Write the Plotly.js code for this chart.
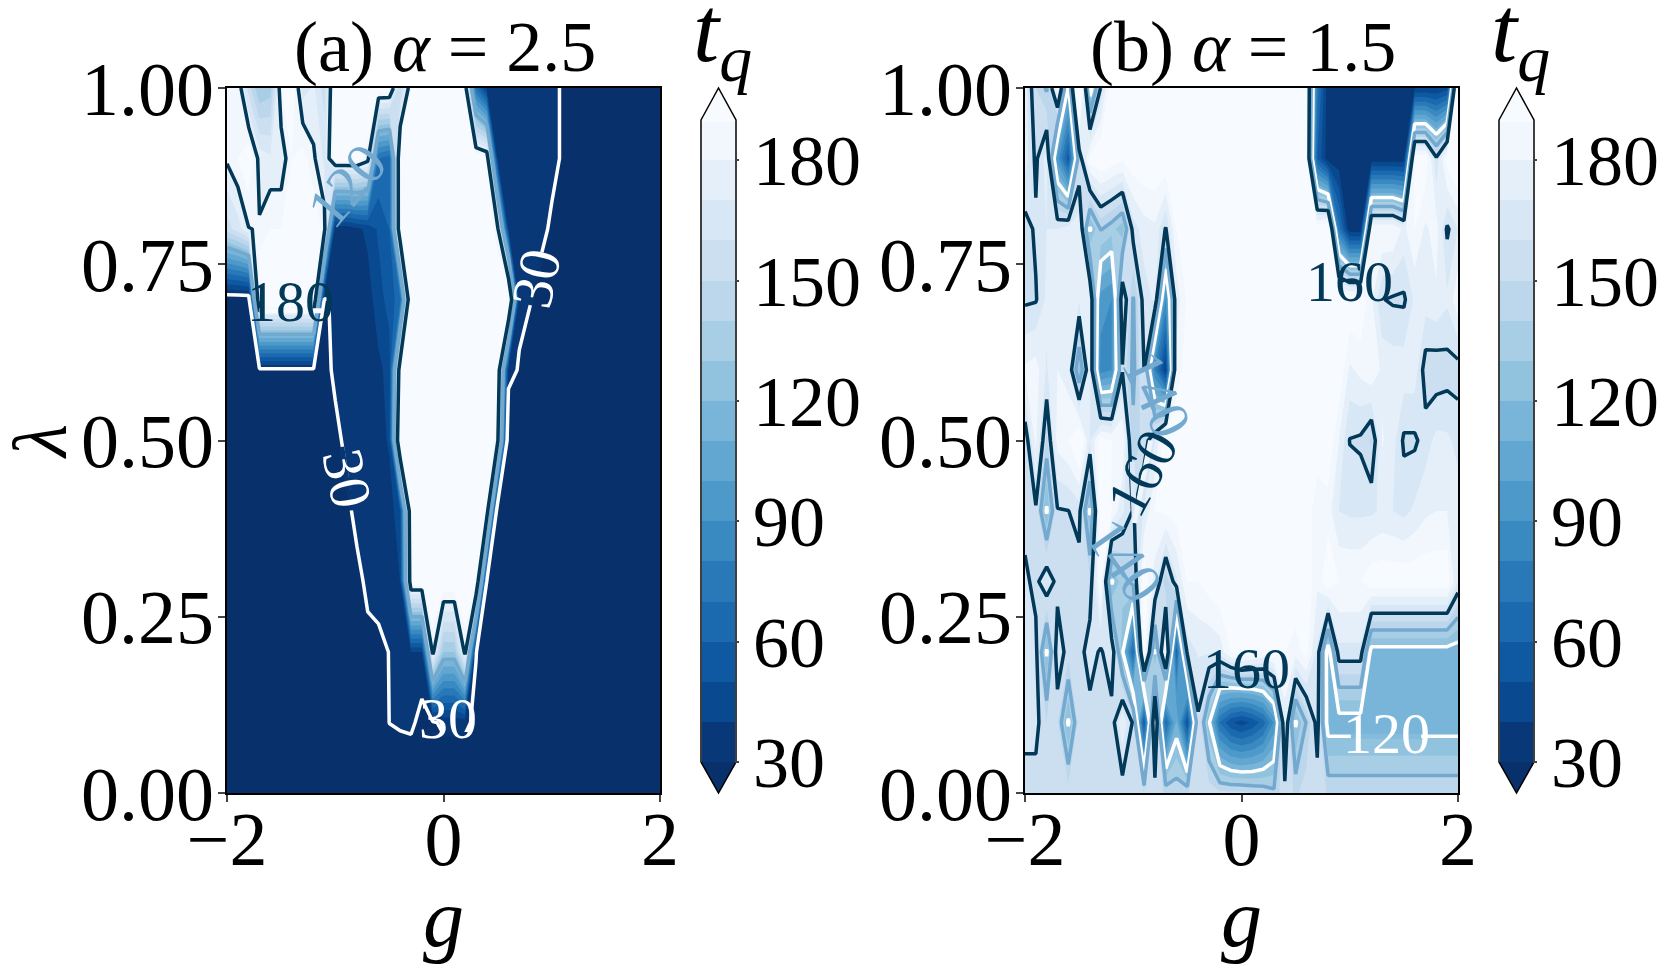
<!DOCTYPE html>
<html>
<head>
<meta charset="utf-8">
<title>tq contours</title>
<script src="https://cdn.plot.ly/plotly-3.0.0.min.js"></script>
<style>
  html, body { margin: 0; padding: 0; background: #fff; }
  #chart { width: 1660px; height: 964px; }
</style>
</head>
<body>
<div id="chart"></div>
<script>
// grid of the two scans
var gVals = [-2,-1.9,-1.8,-1.7,-1.6,-1.5,-1.4,-1.3,-1.2,-1.1,-1,-0.9,-0.8,-0.7,-0.6,-0.5,-0.4,-0.3,-0.2,-0.1,0,0.1,0.2,0.3,0.4,0.5,0.6,0.7,0.8,0.9,1,1.1,1.2,1.3,1.4,1.5,1.6,1.7,1.8,1.9,2];
var lambdaVals = [0,0.1,0.2,0.3,0.4,0.5,0.6,0.7,0.8,0.9,1];

// (a) alpha = 2.5, one row per lambda
var aRow000 = [15,15,15,15,15,15,15,15,15,15,15,15,15,15,15,15,15,15,15,15,15,15,15,15,15,15,15,15,15,15,15,15,15,15,15,15,15,15,15,15,15];
var aRow010 = [20,20,20,20,20,20,20,20,20,20,20,20,20,20,20,30.2,32,33,25,28,33,33,33,27,20,20,20,20,20,20,20,20,20,20,20,20,20,20,20,20,20];
var aRow020 = [20,20,20,20,20,20,20,20,20,20,20,20,20,26,28,30.2,35,40,40,185,130,130,185,30.5,20,20,20,20,20,20,20,20,20,20,20,20,20,20,20,20,20];
var aRow030 = [20,20,20,20,20,20,20,20,20,20,20,20,26,33,33,33,40,199,199,200,200,200,200,215,29,20,20,20,20,20,20,20,20,20,20,20,20,20,20,20,20];
var aRow040 = [20,20,20,20,20,20,20,20,20,20,20,26,34,33,33,33,50,205,200,200,200,200,200,200,195,10,20,20,20,20,20,20,20,20,20,20,20,20,20,20,20];
var aRow050 = [20,20,20,20,20,20,20,20,20,20,26,33,33,33,34,42,225,200,200,200,200,200,200,200,200,185,8,20,20,20,20,20,20,20,20,20,20,20,20,20,20];
var aRow060 = [20,20,20,27,27,27,27,27,27,25,33,33,33,33,38,43,200,200,200,200,200,200,200,200,200,205,38,28,20,20,20,20,20,20,20,20,20,20,20,20,20];
var aRow070 = [21,21,21,210,210,210,210,210,210,28,33,33,33,36,45,55,65,220,200,200,200,200,200,200,200,200,240,35,31,22,20,20,20,20,20,20,20,20,20,20,20];
var aRow080 = [155,165,179.5,181,190,190,200,200,200,186,33,33,38,42,52,60,205,200,200,200,200,200,200,200,200,185,40,33,33,35,27,20,20,20,20,20,20,20,20,20,20];
var aRow090 = [182,190,200,176,172,172,190,195,182,168,196,196,196,186,70,65,205,200,200,200,200,200,200,200,195,40,33,33,33,33,35,28,20,20,20,20,20,20,20,20,20];
var aRow100 = [190,190,155,130,135,190,200,165,172,155,200,200,200,200,198,198,150,190,200,200,200,200,190,70,38,36,33,33,33,33,35,28,20,20,20,20,20,20,20,20,20];

// (b) alpha = 1.5
var bRow000 = [155,155,155,155,155,155,155,155,155,154,155,150,153,149,147.5,149,155,155,152,152,152,150,148,143,157,148,155,155,149,149,149,149,149,149,149,149,149,149,149,149,149];
var bRow010 = [164,164,150,152,118,155,155,155,154,178,158,55,185,65,112,50,158,122,70,52,45,52,65,92,175,118,141,165,113,113,113,113,113,113,113,113,113,113,113,113,113];
var bRow020 = [168,164,118,169,154,155,166,158,170,122,65,200,118,190,62,164,171,171,174,190,200,195,190,197,190,185,194,168,111,167,167,167,113.6,113.6,113.6,113.6,113.6,113.6,113.6,113.6,112];
var bRow030 = [163,156,171,155,155,155,153,194,118,135,144,200,175,143,168,190,190,195,200,200,200,200,200,200,200,200,200,182,200,190,190,190,198,198,198,198,198,198,198,198,169];
var bRow040 = [155,158,118,159,159.8,164,118,200,190,172,159,171,190,192,195,195,200,200,200,200,200,200,200,200,200,200,200,180,185,170,168,168,168,172,170,167,172,178,180,180,175];
var bRow050 = [152,183,147.5,184,190,208,170,195,190,190,143,154,170,198,198,200,200,200,200,200,200,200,200,200,200,200,200,200,200,180,159.5,158,148,181,174,158,158,165,173,172,167];
var bRow060 = [182,185,169,180,175,125,177,85,90,159,137,160,80,40,185,195,200,200,200,200,200,200,200,200,200,200,200,200,200,200,178,183,189,178,176,176,176,154,153,155,155];
var bRow070 = [158,159,172,174,175,171,175,95,90,172,139,165,172,90,174,192,200,200,200,200,200,200,200,200,200,200,200,200,200,200,200,200,182,160.5,158.5,158,172,175,178,172,188];
var bRow080 = [155,162,170,170,175,176,118,141,134,124,165,175,178,159,190,198,200,200,200,200,200,200,200,200,200,200,200,197,205,75,33,33,190,190,190,177,190,178,185,158,170];
var bRow090 = [175,157.5,175,95,55,150,195,202,197,193,198,200,200,200,200,200,200,200,200,200,200,200,200,200,200,200,190,60,33,33,33,33,33,33,33,33,198,198,162,196,205];
var bRow100 = [175,150,138,185,117,230,110,161,200,200,200,200,200,200,200,200,200,200,200,200,200,200,200,200,200,200,190,75,33,33,33,33,33,33,33,33,40,40,40,45,220];

var zA = [aRow000,aRow010,aRow020,aRow030,aRow040,aRow050,aRow060,aRow070,aRow080,aRow090,aRow100];
var zB = [bRow000,bRow010,bRow020,bRow030,bRow040,bRow050,bRow060,bRow070,bRow080,bRow090,bRow100];

// contour lines drawn on top of the filled bands
var lineLevelsA = [30,120,180];
var lineLevelsB = [120,140,160];
var lineColors = ['#ffffff','#74a9cf','#023858'];

// inline labels: text, g, lambda, angle, colour
var labelsA = [
  ['30', 0.855, 0.73, -78, '#ffffff'],
  ['30', -0.89, 0.446, 78, '#ffffff'],
  ['30', 0.046, 0.106, 0, '#ffffff'],
  ['180', -1.41, 0.697, 0, '#023858'],
  ['120', -0.894, 0.862, -50, '#74a9cf']
];
var labelsB = [
  ['160', 0.995, 0.726, 0, '#023858'],
  ['160', 0.046, 0.176, 0, '#023858'],
  ['160', -0.912, 0.454, -62, '#023858'],
  ['140', -0.783, 0.565, 65, '#74a9cf'],
  ['140', -1.078, 0.33, 55, '#74a9cf'],
  ['120', 1.336, 0.085, 0, '#ffffff']
];
// breaks in the lines behind the labels: g0, lambda0, g1, lambda1, colour
var gapsA = [
  [0.8, 0.692, 0.91, 0.767, '#083672'],
  [-0.94, 0.491, -0.85, 0.401, '#083672'],
  [-1.7, 0.684, -1.12, 0.684, '#f7fbff'],
  [-0.11, 0.083, 0.24, 0.083, '#083672']
];
var gapsB = [
  [1.01, 0.0806, 1.66, 0.0806, '#85bbdb'],
  [-1.01, 0.47, -0.99, 0.383, '#dbe8f5'],
  [-0.99, 0.383, -0.84, 0.5, '#eef5fb']
];

var cbTicks = [30,60,90,120,150,180];
var xTicks = [-2,0,2];
var xTickText = ['\u22122','0','2'];
var yTicks = [0,0.25,0.5,0.75,1];

var blues = [[0,'#08306b'],[0.125,'#08519c'],[0.25,'#2171b5'],[0.375,'#4292c6'],[0.5,'#6baed6'],[0.625,'#9ecae1'],[0.75,'#c6dbef'],[0.875,'#deebf7'],[1,'#f7fbff']];

var W = 1660, H = 964;
var serif = '"Liberation Serif", serif';
var px = function(v) { return v / W; };
var py = function(v) { return 1 - v / H; };

function fillTrace(z, xa, ya, barLeft) {
  return {
    type: 'contour', x: gVals, y: lambdaVals, z: z, xaxis: xa, yaxis: ya,
    colorscale: blues, zauto: false, zmin: 30, zmax: 190, autocontour: false,
    contours: {start: 30, end: 190, size: 10, coloring: 'fill', showlines: false},
    line: {width: 0, smoothing: 0}, hoverinfo: 'skip',
    colorbar: {
      x: px(barLeft + 1), xanchor: 'left', xpad: 0,
      y: py(120), yanchor: 'top', ypad: 0,
      thicknessmode: 'pixels', thickness: 33, lenmode: 'pixels', len: 642,
      outlinewidth: 0,
      tickmode: 'array', tickvals: cbTicks, ticks: 'outside', ticklen: 4, tickwidth: 1.5,
      tickfont: {family: serif, size: 72, color: '#000'}
    }
  };
}

function lineTrace(z, xa, ya, level, color) {
  return {
    type: 'contour', x: gVals, y: lambdaVals, z: z, xaxis: xa, yaxis: ya,
    showscale: false, autocontour: false, hoverinfo: 'skip',
    contours: {start: level, end: level, size: 1, coloring: 'none'},
    line: {color: color, width: 3.5, smoothing: 0}
  };
}

var traces = [fillTrace(zA, 'x', 'y', 701), fillTrace(zB, 'x2', 'y2', 1499)];
lineLevelsA.forEach(function(l, i) { traces.push(lineTrace(zA, 'x', 'y', l, lineColors[i])); });
lineLevelsB.forEach(function(l, i) { traces.push(lineTrace(zB, 'x2', 'y2', l, lineColors[i])); });

function xAxis(left, right, anchor) {
  return {
    domain: [px(left), px(right)], range: [-2, 2], anchor: anchor, tickmode: 'array', tickvals: xTicks, ticktext: xTickText,
    ticks: 'outside', ticklen: 7, tickwidth: 1.5, ticklabelstandoff: -28, showgrid: false, zeroline: false,
    showline: true, mirror: true, linecolor: '#000', linewidth: 1.5,
    tickfont: {family: serif, size: 76, color: '#000'},
    title: {text: '<i>g</i>', font: {family: serif, size: 82, color: '#000'}, standoff: 30}
  };
}
function yAxis(anchor) {
  return {
    domain: [py(793), py(88)], range: [0, 1], anchor: anchor, tickmode: 'array', tickvals: yTicks, tickformat: '.2f',
    ticks: 'outside', ticklen: 7, tickwidth: 1.5, ticklabelstandoff: -11, showgrid: false, zeroline: false,
    showline: true, mirror: true, linecolor: '#000', linewidth: 1.5,
    tickfont: {family: serif, size: 76, color: '#000'}
  };
}

function label(text, x, y, size, angle) {
  return {text: text, xref: 'paper', yref: 'paper', x: px(x), y: py(y), xanchor: 'center', yanchor: 'middle',
    textangle: angle || 0, showarrow: false, font: {family: serif, size: size, color: '#000'}};
}

function lineLabel(row, xa, ya) {
  return {text: row[0], xref: xa, yref: ya, x: row[1], y: row[2], textangle: row[3], xanchor: 'center', yanchor: 'middle',
    showarrow: false, font: {family: serif, size: 58, color: row[4]}};
}

function gapShape(row, xa, ya) {
  return {type: 'line', xref: xa, yref: ya, x0: row[0], y0: row[1], x1: row[2], y1: row[3], line: {color: row[4], width: 5}};
}

// colour bar ends and outline
function barShapes(left, right) {
  var mid = (left + right) / 2;
  var top = 'M' + px(left) + ',' + py(120) + ' L' + px(mid) + ',' + py(88) + ' L' + px(right) + ',' + py(120) + ' Z';
  var bottom = 'M' + px(left) + ',' + py(762) + ' L' + px(mid) + ',' + py(793) + ' L' + px(right) + ',' + py(762) + ' Z';
  var outline = 'M' + px(left) + ',' + py(120) + ' L' + px(mid) + ',' + py(88) + ' L' + px(right) + ',' + py(120) +
    ' L' + px(right) + ',' + py(762) + ' L' + px(mid) + ',' + py(793) + ' L' + px(left) + ',' + py(762) + ' Z';
  return [
    {type: 'path', xref: 'paper', yref: 'paper', path: top, fillcolor: '#f7fbff', line: {width: 0}},
    {type: 'path', xref: 'paper', yref: 'paper', path: bottom, fillcolor: '#08306b', line: {width: 0}},
    {type: 'path', xref: 'paper', yref: 'paper', path: outline, line: {color: '#000', width: 1.5}}
  ];
}

var annotations = [
  label('(a) <i>\u03b1</i> = 2.5', 445, 47, 72),
  label('(b) <i>\u03b1</i> = 1.5', 1243, 47, 72),
  label('<i>t<sub>q</sub></i>', 722, 36, 94),
  label('<i>t<sub>q</sub></i>', 1520, 36, 94),
  label('<i>\u03bb</i>', 40, 442, 76, -90)
];
labelsA.forEach(function(r) { annotations.push(lineLabel(r, 'x', 'y')); });
labelsB.forEach(function(r) { annotations.push(lineLabel(r, 'x2', 'y2')); });

var shapes = barShapes(701, 736).concat(barShapes(1499, 1534));
gapsA.forEach(function(r) { shapes.push(gapShape(r, 'x', 'y')); });
gapsB.forEach(function(r) { shapes.push(gapShape(r, 'x2', 'y2')); });

var layout = {
  width: W, height: H, paper_bgcolor: '#fff', plot_bgcolor: '#fff', showlegend: false,
  margin: {l: 0, r: 0, t: 0, b: 0, pad: 0, autoexpand: false},
  xaxis: xAxis(227, 660, 'y'),
  yaxis: yAxis('x'),
  xaxis2: xAxis(1025, 1458, 'y2'),
  yaxis2: yAxis('x2'),
  annotations: annotations,
  shapes: shapes
};

Plotly.newPlot('chart', traces, layout, {displayModeBar: false});
</script>
</body>
</html>
